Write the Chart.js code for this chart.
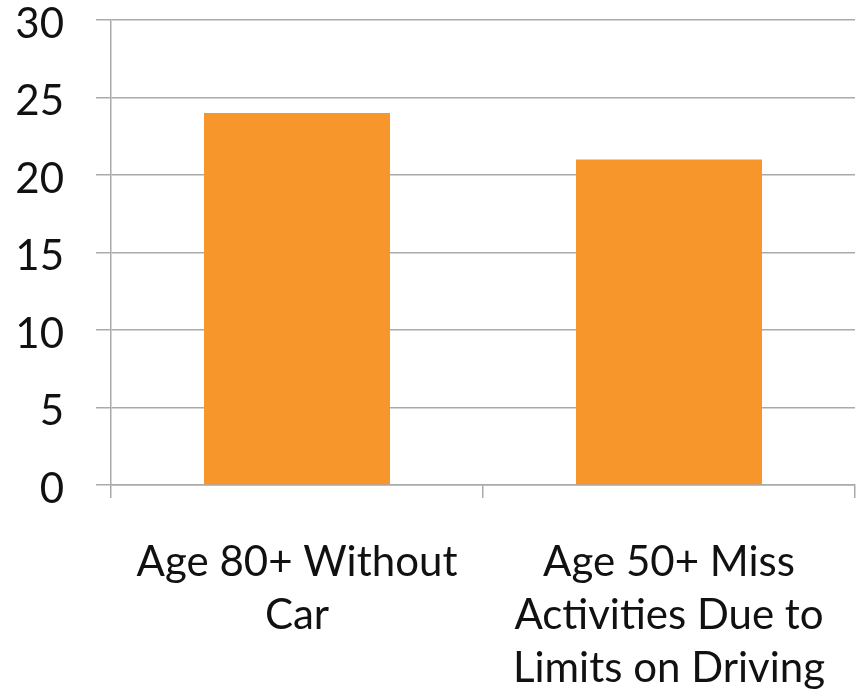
<!DOCTYPE html>
<html>
<head>
<meta charset="utf-8">
<script src="https://cdn.jsdelivr.net/npm/chart.js@4.4.0/dist/chart.umd.min.js"></script>
<style>
  html, body { margin: 0; padding: 0; background: #fff; }
  #wrap { width: 861px; height: 697px; }
</style>
</head>
<body>
<div id="wrap"><canvas id="myChart" width="861" height="697"></canvas></div>
<script>
// categories and values
const categories = [
    ['Age 80+ Without', 'Car'],
    ['Age 50+ Miss', 'Activities Due to', 'Limits on Driving']
];
const values = [24, 21];
const yTicks = [0, 5, 10, 15, 20, 25, 30];

const gridColor = '#aaaaaa';
const font = { family: 'Lato, "Open Sans", sans-serif', size: 42, lineHeight: 1.26 };

let ctx = document.getElementById('myChart').getContext('2d');
const data = {
    labels: categories,
    datasets: [{
        data: values,
        backgroundColor: '#f7962b',
        borderWidth: 0,
        categoryPercentage: 1,
        barPercentage: 0.5,
    }],
};

const config = {
    type: 'bar',
    data,
    options: {
        responsive: false,
        animation: false,
        layout: { padding: { top: 20, right: 6, left: 0, bottom: 0 } },
        plugins: { legend: { display: false }, tooltip: { enabled: false } },
        scales: {
            x: {
                grid: { offset: true, drawOnChartArea: false, color: gridColor, lineWidth: 1.5, tickLength: 13 },
                border: { color: gridColor, width: 1.5 },
                ticks: { color: '#111', font, padding: 38, maxRotation: 0, autoSkip: false },
                afterFit: (s) => { s.height = 212; s.paddingLeft = 0; s.paddingRight = 0; },
            },
            y: {
                min: 0,
                max: 30,
                afterBuildTicks: (s) => { s.ticks = yTicks.map(v => ({ value: v })); },
                grid: { color: gridColor, lineWidth: 1.5, tickLength: 15 },
                border: { color: gridColor, width: 1.5 },
                ticks: { color: '#111', font: { family: font.family, size: 42 }, padding: 32, labelOffset: 4 },
                afterFit: (s) => { s.width = 111; s.paddingTop = 0; s.paddingBottom = 0; },
            }
        }
    }
};

let chart = new Chart(ctx, config);
</script>
</body>
</html>
